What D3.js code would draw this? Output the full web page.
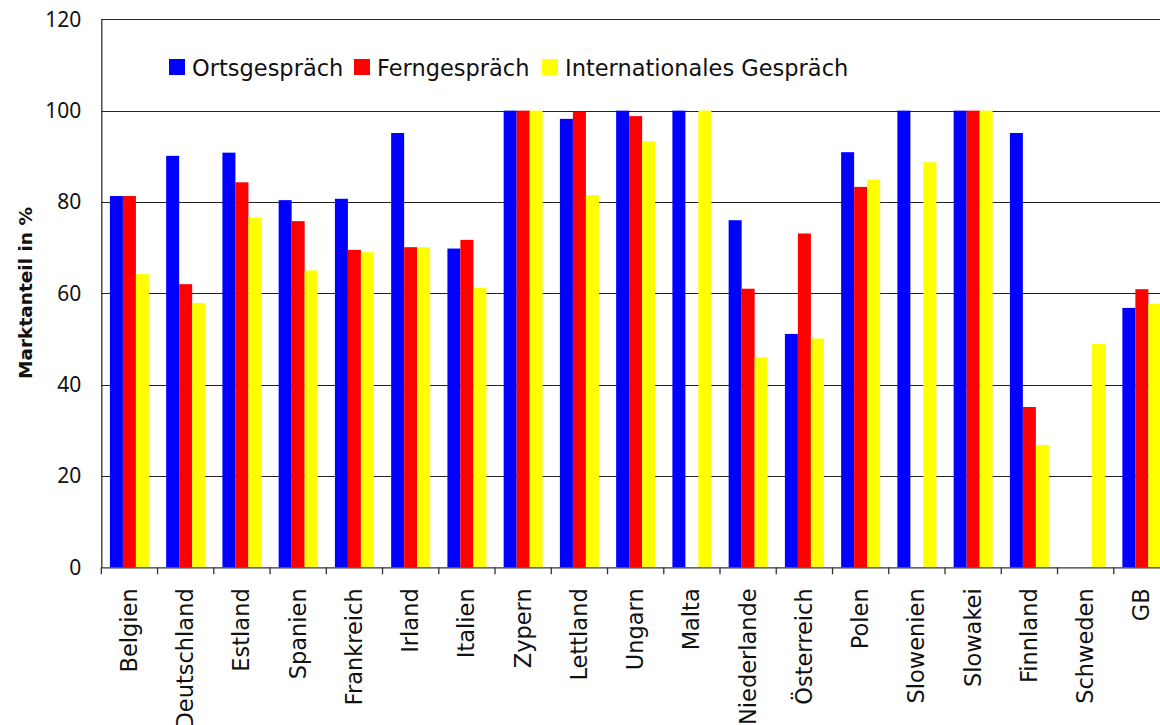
<!DOCTYPE html>
<html>
<head>
<meta charset="utf-8">
<script src="https://cdn.jsdelivr.net/npm/d3@7"></script>
<style>
  html, body { margin: 0; padding: 0; background: #fff; overflow: hidden; }
  svg { display: block; }
  text { font-family: "DejaVu Sans", "Noto Sans", sans-serif; fill: #111; }
</style>
</head>
<body>
<svg id="chart" width="1160" height="725"></svg>
<script>
// Market share of the former incumbent by call type, per country (%)
const countries = ["Belgien", "Deutschland", "Estland", "Spanien", "Frankreich", "Irland", "Italien",
  "Zypern", "Lettland", "Ungarn", "Malta", "Niederlande", "Österreich", "Polen", "Slowenien",
  "Slowakei", "Finnland", "Schweden", "GB"];
const seriesNames = ["Ortsgespräch", "Ferngespräch", "Internationales Gespräch"];
const ortsgespraech = [81.3, 90.1, 90.8, 80.4, 80.7, 95.1, 69.8, 100, 98.2, 100, 100, 76.0, 51.1, 90.9, 100, 100, 95.1, null, 56.8];
const ferngespraech = [81.3, 62.0, 84.3, 75.8, 69.5, 70.1, 71.7, 100, 99.8, 98.8, null, 61.0, 73.1, 83.3, null, 100, 35.1, null, 60.9];
const international = [64.2, 57.9, 76.6, 65.0, 69.0, 70.1, 61.2, 100, 81.5, 93.3, 100, 46.0, 50.1, 84.9, 88.7, 100, 26.8, 48.9, 57.7];
const yTicks = [0, 20, 40, 60, 80, 100, 120];
const colors = ["#0000ff", "#ff0000", "#ffff00"];
const yTitle = "Marktanteil in %";

const seriesValues = [ortsgespraech, ferngespraech, international];

const svg = d3.select("#chart");
const plotLeft = 101.3, plotRight = 1170, plotTop = 19.3, plotBottom = 567.3;

const x0 = d3.scaleBand().domain(countries).range([plotLeft, plotRight]).paddingInner(0).paddingOuter(0);
const x1 = d3.scaleBand().domain(seriesNames).range([0, x0.bandwidth()]).paddingInner(0).paddingOuter(0.663);
const y = d3.scaleLinear().domain([0, 120]).range([plotBottom, plotTop]);
const color = d3.scaleOrdinal().domain(seriesNames).range(colors);

// horizontal gridlines (including the top frame line)
svg.append("g")
  .selectAll("line")
  .data(yTicks.filter(t => t > 0))
  .join("line")
  .attr("x1", plotLeft).attr("x2", 1160)
  .attr("y1", d => Math.round(y(d)) + 0.5).attr("y2", d => Math.round(y(d)) + 0.5)
  .attr("stroke", "#222").attr("stroke-width", 1);

// bars
const barData = [];
countries.forEach((c, i) => {
  seriesNames.forEach((s, j) => {
    const v = seriesValues[j][i];
    if (v != null) barData.push({ country: c, series: s, value: v });
  });
});
svg.append("g")
  .selectAll("rect")
  .data(barData)
  .join("rect")
  .attr("x", d => x0(d.country) + x1(d.series))
  .attr("width", x1.bandwidth())
  .attr("y", d => y(d.value))
  .attr("height", d => y(0) - y(d.value))
  .attr("fill", d => color(d.series));

// y axis
const yAxis = svg.append("g")
  .attr("transform", `translate(${plotLeft},0)`)
  .call(d3.axisLeft(y).tickValues(yTicks).tickSize(0).tickPadding(20).tickFormat(d3.format("d")));
yAxis.select(".domain").attr("stroke", "#333").attr("stroke-width", 1.3);
yAxis.selectAll("text").attr("font-size", 21).style("font-family", "'Noto Sans', sans-serif").attr("fill", "#111");

// x axis with tick marks on category boundaries
const xAxisG = svg.append("g").attr("transform", `translate(0,${plotBottom})`);
xAxisG.append("line")
  .attr("x1", plotLeft).attr("x2", 1160).attr("y1", 0.5).attr("y2", 0.5)
  .attr("stroke", "#333").attr("stroke-width", 1.3);
xAxisG.selectAll("line.tick")
  .data(countries.concat(["_end"]))
  .join("line")
  .attr("class", "tick")
  .attr("x1", (d, i) => plotLeft + i * x0.step()).attr("x2", (d, i) => plotLeft + i * x0.step())
  .attr("y1", 0).attr("y2", 7)
  .attr("stroke", "#333").attr("stroke-width", 1.3);
xAxisG.selectAll("text")
  .data(countries)
  .join("text")
  .attr("transform", d => `translate(${x0(d) + x0.bandwidth() / 2 + 7.5},${21}) rotate(-90)`)
  .attr("text-anchor", "end")
  .attr("font-size", 22.5)
  .text(d => d);

// y axis title
svg.append("text")
  .attr("transform", `translate(32,${293}) rotate(-90)`)
  .attr("text-anchor", "middle")
  .attr("font-size", 18.5)
  .attr("font-weight", "bold")
  .text(yTitle);

// legend
const legendPos = [169, 354, 542];
const legend = svg.append("g");
seriesNames.forEach((s, i) => {
  const g = legend.append("g").attr("transform", `translate(${legendPos[i]},59)`);
  g.append("rect").attr("width", 16).attr("height", 16).attr("fill", colors[i]);
  g.append("text").attr("x", 23).attr("y", 16.5).attr("font-size", 22.5).text(s);
});
</script>
</body>
</html>
